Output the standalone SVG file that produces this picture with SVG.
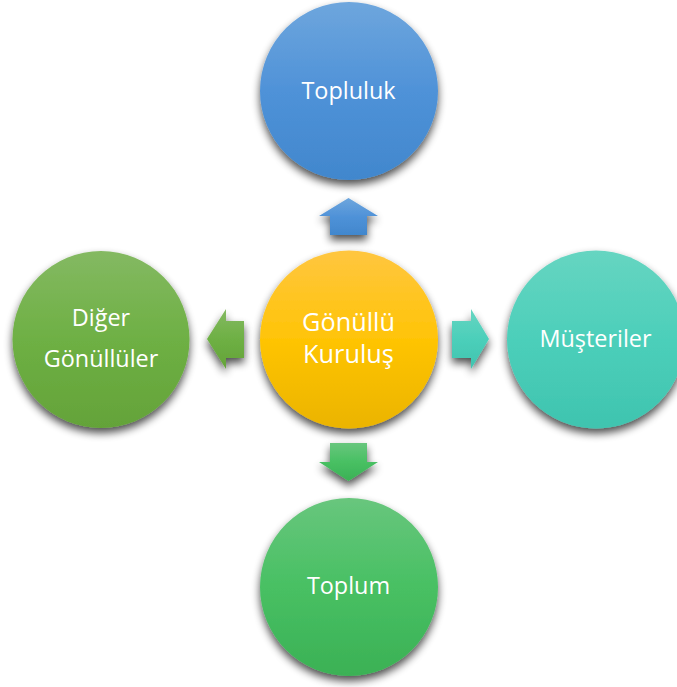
<svg xmlns="http://www.w3.org/2000/svg" width="677" height="687" viewBox="0 0 677 687">
<style>
text{font-family:"Open Sans","Noto Sans","Liberation Sans",sans-serif;font-size:23.400px;fill:#fff;text-anchor:middle}
.big{font-size:25.300px}
.n{filter:url(#sh)}
</style>
<defs>
<filter id="sh" x="-30%" y="-30%" width="160%" height="170%">
<feGaussianBlur in="SourceAlpha" stdDeviation="4.500"/>
<feOffset dy="5"/>
<feComponentTransfer><feFuncA type="linear" slope="0.7"/></feComponentTransfer>
<feMerge><feMergeNode/><feMergeNode in="SourceGraphic"/></feMerge>
</filter>
<linearGradient id="blue" x1="0" y1="0" x2="0" y2="1"><stop offset="0" stop-color="#6ea6dd"/><stop offset="0.5" stop-color="#4f92d8"/><stop offset="1" stop-color="#4187cd"/></linearGradient>
<linearGradient id="gold" x1="0" y1="0" x2="0" y2="1"><stop offset="0" stop-color="#ffc640"/><stop offset="0.5" stop-color="#ffc406"/><stop offset="1" stop-color="#ebb400"/></linearGradient>
<linearGradient id="teal" x1="0" y1="0" x2="0" y2="1"><stop offset="0" stop-color="#66d5c1"/><stop offset="0.5" stop-color="#4ccfba"/><stop offset="1" stop-color="#3fc4af"/></linearGradient>
<linearGradient id="lime" x1="0" y1="0" x2="0" y2="1"><stop offset="0" stop-color="#84b962"/><stop offset="0.5" stop-color="#6eb044"/><stop offset="1" stop-color="#64a339"/></linearGradient>
<linearGradient id="green" x1="0" y1="0" x2="0" y2="1"><stop offset="0" stop-color="#68c67d"/><stop offset="0.5" stop-color="#48c063"/><stop offset="1" stop-color="#3bb155"/></linearGradient>
</defs>
<g id="connectors">
<polygon class="n" fill="url(#blue)" points="348.500,198 378,216 367,216 367,235 330,235 330,216 319,216"/>
<polygon class="n" fill="url(#teal)" points="452,321 471,321 471,309 489,339 471,369 471,358 452,358"/>
<polygon class="n" fill="url(#green)" points="330,443 367,443 367,462 378,462 348.500,481 319,462 330,462"/>
<polygon class="n" fill="url(#lime)" points="244,321 226,321 226,309 207,339 226,369 226,358 244,358"/>
</g>
<g id="node-topluluk"><circle class="n" cx="349" cy="91" r="89" fill="url(#blue)"/><text x="348.500" y="99">Topluluk</text></g>
<g id="node-musteriler"><circle class="n" cx="596" cy="339.500" r="89" fill="url(#teal)"/><text x="595.500" y="347">Müşteriler</text></g>
<g id="node-toplum"><circle class="n" cx="349" cy="587" r="89" fill="url(#green)"/><text x="348.500" y="594">Toplum</text></g>
<g id="node-diger"><circle class="n" cx="101" cy="339.500" r="88.500" fill="url(#lime)"/><text x="101" y="326">Diğer</text><text x="101" y="367">Gönüllüler</text></g>
<g id="node-gonullu"><circle class="n" cx="349" cy="339.500" r="89" fill="url(#gold)"/><text class="big" x="348.500" y="331">Gönüllü</text><text class="big" x="348.500" y="363">Kuruluş</text></g>
</svg>
